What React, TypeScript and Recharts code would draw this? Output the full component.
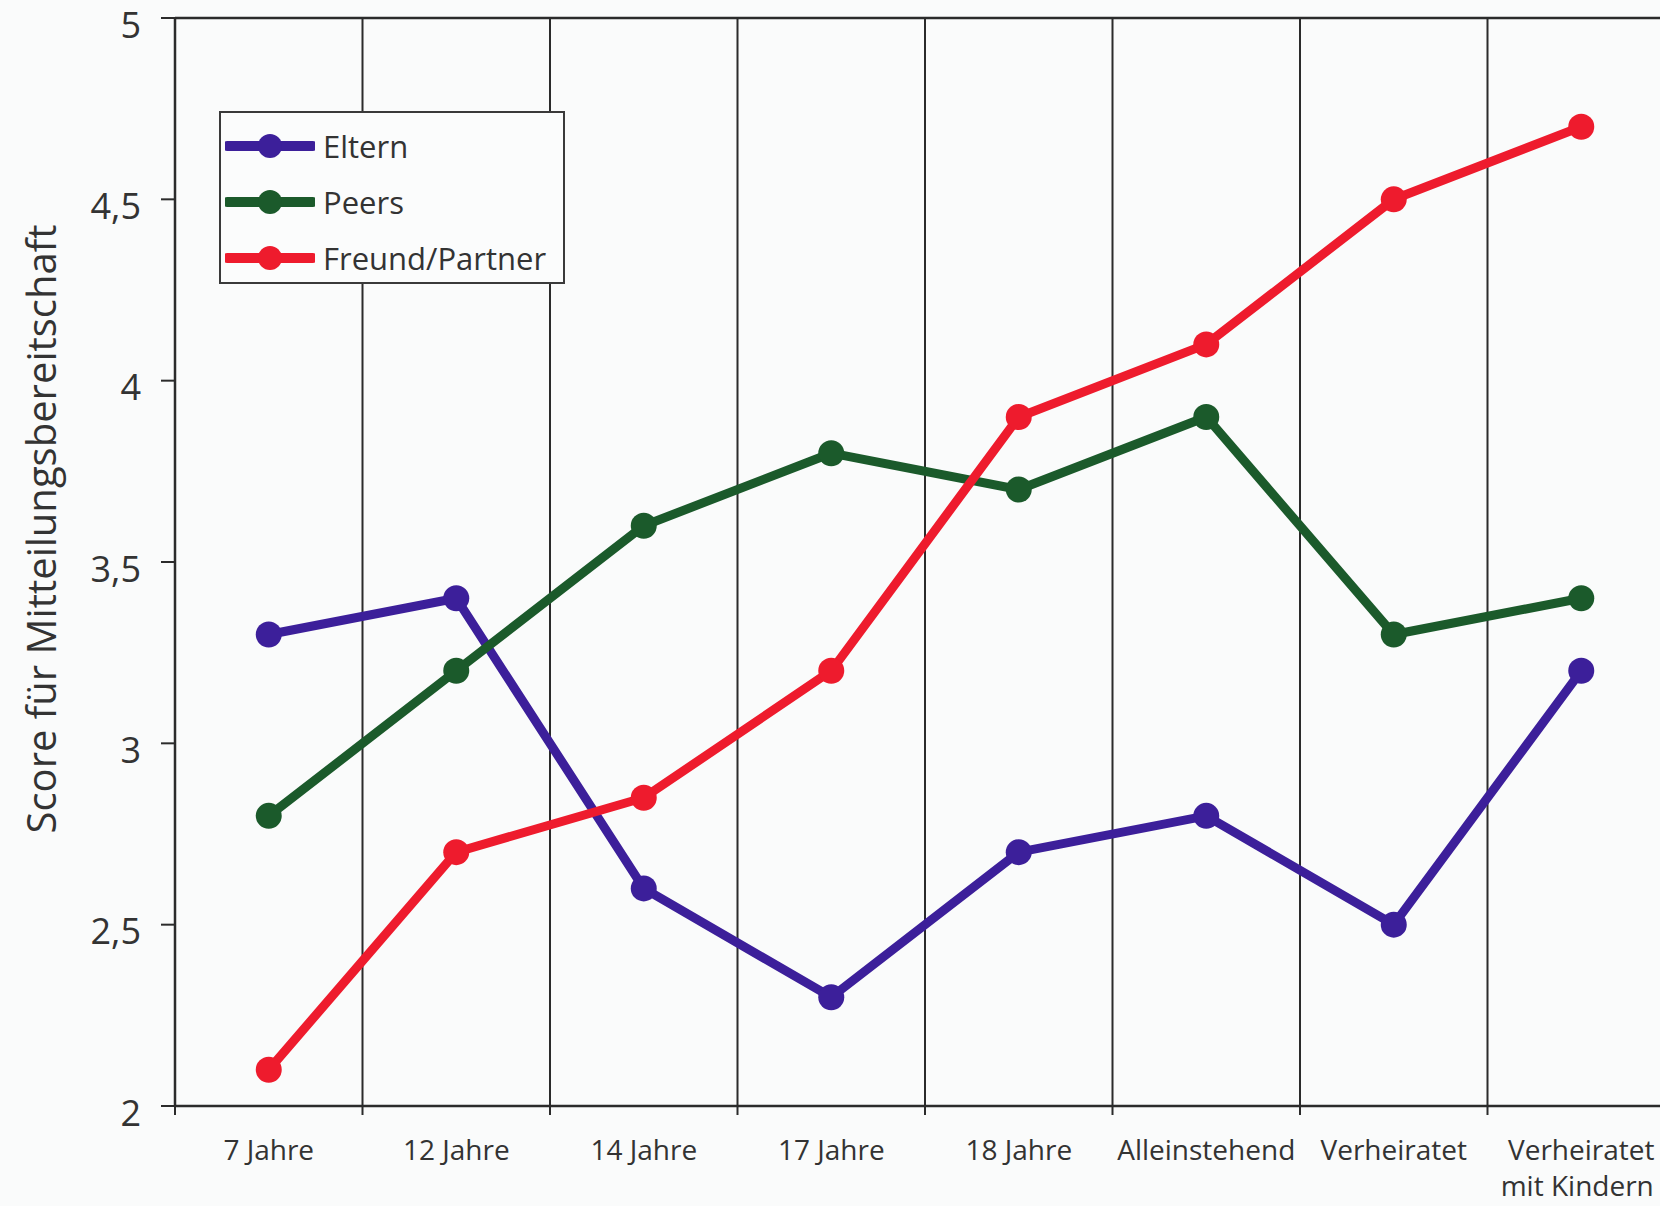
import React from 'react';
import { LineChart, Line, XAxis, YAxis, CartesianGrid, ReferenceLine } from 'recharts';

const categories = ['7 Jahre', '12 Jahre', '14 Jahre', '17 Jahre', '18 Jahre', 'Alleinstehend', 'Verheiratet', 'Verheiratet\nmit Kindern'];
const eltern = [3.3, 3.4, 2.6, 2.3, 2.7, 2.8, 2.5, 3.2];
const peers = [2.8, 3.2, 3.6, 3.8, 3.7, 3.9, 3.3, 3.4];
const partner = [2.1, 2.7, 2.85, 3.2, 3.9, 4.1, 4.5, 4.7];
const yTicks = [2, 2.5, 3, 3.5, 4, 4.5, 5];

const series = [
  { key: 'eltern', name: 'Eltern', color: '#3c1f9a' },
  { key: 'peers', name: 'Peers', color: '#1b5a2b' },
  { key: 'partner', name: 'Freund/Partner', color: '#ee1b2d' },
];

const data = categories.map((c, i) => ({ cat: c, eltern: eltern[i], peers: peers[i], partner: partner[i] }));

const FONT = '"Open Sans", "DejaVu Sans", sans-serif';
const INK = '#333333';
const LINE = '#2b2b2b';

const XTick = (props: any) => {
  const { x, y, payload, width } = props;
  const lines = String(payload.value).split('\n');
  const band = (width || 1500) / categories.length;
  const bx = x - band / 2;
  return (
    <g>
      <line x1={bx} y1={y} x2={bx} y2={y + 9} stroke={LINE} strokeWidth={2} />
      <text x={x} y={y} textAnchor="middle" fontSize={28} fill={INK} fontFamily={FONT}>
        {lines.map((l, i) => (
          <tspan key={i} x={i === 0 ? x : x - 4} dy={i === 0 ? 54 : 36}>{l}</tspan>
        ))}
      </text>
    </g>
  );
};

const YTick = (props: any) => {
  const { x, y, payload } = props;
  return (
    <text x={x} y={y} dy={6} textAnchor="end" dominantBaseline="central" fontSize={36} fill={INK} fontFamily={FONT}>
      {String(payload.value).replace('.', ',')}
    </text>
  );
};

const YTitle = (props: any) => {
  const vb = props.viewBox || { x: 0, y: 18, width: 175, height: 1088 };
  const cx = vb.x + 40;
  const cy = vb.y + vb.height / 2 - 33;
  return (
    <text x={cx} y={cy} transform={`rotate(-90 ${cx} ${cy})`} textAnchor="middle" dominantBaseline="central" fontSize={40} fill={INK} fontFamily={FONT}>
      Score für Mitteilungsbereitschaft
    </text>
  );
};

const LegendBox = () => (
  <div style={{ position: 'absolute', left: 219, top: 111, width: 346, height: 173, boxSizing: 'border-box', border: '2px solid #3a3a3a', background: '#fbfcfc' }}>
    {series.map((s, i) => (
      <div key={s.key} style={{ position: 'absolute', left: 4, top: 16 + i * 56, height: 34, display: 'flex', alignItems: 'center' }}>
        <svg width={90} height={34} style={{ display: 'block' }}>
          <line x1={2} y1={17} x2={88} y2={17} stroke={s.color} strokeWidth={10} strokeLinecap="round" />
          <circle cx={45} cy={17} r={12} fill={s.color} />
        </svg>
        <span style={{ marginLeft: 8, fontSize: 31, fontFamily: FONT, color: INK, lineHeight: '34px', whiteSpace: 'nowrap' }}>{s.name}</span>
      </div>
    ))}
  </div>
);

export default function App() {
  return (
    <div style={{ position: 'absolute', left: 0, top: 0, width: 1660, height: 1206, overflow: 'hidden', background: '#fafbfb' }}>
      <LineChart width={1700} height={1206} data={data} margin={{ top: 18, right: 25, bottom: 0, left: 0 }}>
        <CartesianGrid
          horizontal={false}
          vertical={true}
          stroke={LINE}
          strokeWidth={2}
          verticalCoordinatesGenerator={({ offset }: any) =>
            categories.map((_, i) => offset.left + (i * offset.width) / categories.length).slice(1)
          }
        />
        <XAxis
          dataKey="cat"
          scale="band"
          height={100}
          axisLine={{ stroke: LINE, strokeWidth: 2.5 }}
          tickLine={false}
          tickSize={0}
          tickMargin={0}
          interval={0}
          tick={<XTick />}
        />
        <YAxis
          domain={[2, 5]}
          ticks={yTicks}
          width={175}
          tickSize={14}
          tickMargin={20}
          tick={<YTick />}
          axisLine={{ stroke: LINE, strokeWidth: 2.5 }}
          tickLine={{ stroke: LINE, strokeWidth: 2 }}
          label={<YTitle />}
        />
        <ReferenceLine y={5} stroke={LINE} strokeWidth={2.5} />
        {series.map((s) => (
          <Line
            key={s.key}
            dataKey={s.key}
            name={s.name}
            stroke={s.color}
            strokeWidth={9}
            dot={{ r: 13, fill: s.color, stroke: 'none' }}
            activeDot={false}
            isAnimationActive={false}
          />
        ))}
      </LineChart>
      <LegendBox />
    </div>
  );
}
